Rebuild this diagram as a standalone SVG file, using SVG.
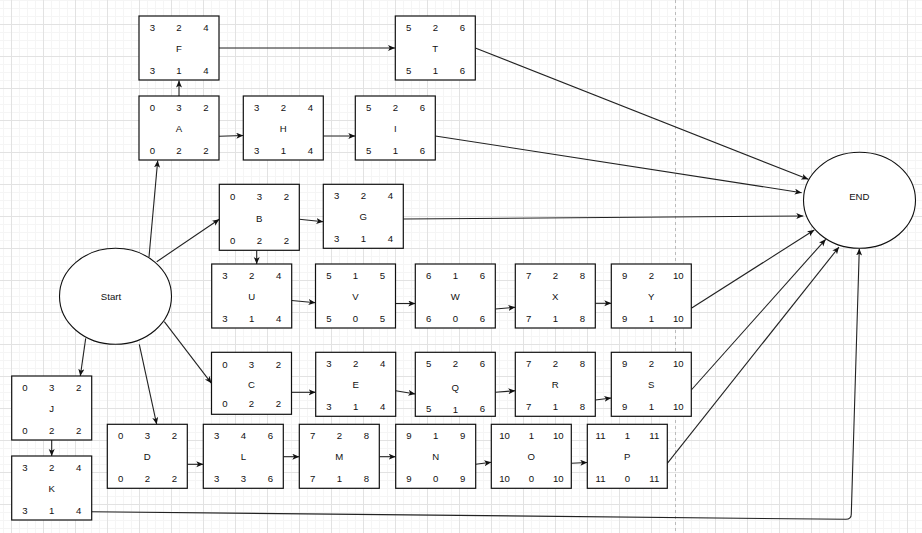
<svg xmlns="http://www.w3.org/2000/svg" width="922" height="533" viewBox="0 0 922 533">
<style>
.box{fill:#fff;stroke:#111;stroke-width:1.2}
.ell{fill:#fff;stroke:#111;stroke-width:1.1}
text{font-family:"Liberation Sans",Arial,sans-serif;font-size:9.6px;fill:#111;text-anchor:middle}
.c{fill:none;stroke:#222;stroke-width:1.1;marker-end:url(#arr)}
</style>
<defs>
<pattern id="grid" patternUnits="userSpaceOnUse" x="11" y="24" width="32" height="32">
<path d="M8.5,0V32M16.5,0V32M24.5,0V32M0,8.5H32M0,16.5H32M0,24.5H32" stroke="#f5f5f5" stroke-width="1" fill="none"/>
<path d="M0.5,0V32M0,0.5H32" stroke="#e2e2e2" stroke-width="1" fill="none"/>
</pattern>
<marker id="arr" markerUnits="userSpaceOnUse" markerWidth="10" markerHeight="10" refX="7" refY="3" orient="auto">
<path d="M0,0 L7,3 L0,6 L1.8,3 Z" fill="#111"/>
</marker>
</defs>
<rect width="922" height="533" fill="#fff"/>
<rect width="922" height="533" fill="url(#grid)"/>
<line x1="675.5" y1="0" x2="675.5" y2="533" stroke="#bbb" stroke-width="1" stroke-dasharray="3 3"/>

<g id="connectors">
<path class="c" d="M179,96 L179,80.5"/>
<path class="c" d="M219,48 L395,48"/>
<path class="c" d="M219,136.3 L243.3,135.5"/>
<path class="c" d="M323.3,136 L355.3,136"/>
<path class="c" d="M149,257 L157.7,160.5"/>
<path class="c" d="M156.7,261.7 L219.3,219.3"/>
<path class="c" d="M299.3,219.3 L323.3,221.7"/>
<path class="c" d="M256.7,250.5 L256.7,264"/>
<path class="c" d="M291.7,300.5 L315.5,302.7"/>
<path class="c" d="M395.5,303.5 L415.3,303.5"/>
<path class="c" d="M495.3,309 L515.3,307.3"/>
<path class="c" d="M595.3,303.3 L611.3,303.3"/>
<path class="c" d="M164.3,321.7 L211.5,383.3"/>
<path class="c" d="M291.5,392.3 L315.7,392.3"/>
<path class="c" d="M395.7,390.7 L415.3,394"/>
<path class="c" d="M495.3,392.3 L515.3,390.7"/>
<path class="c" d="M595.3,400 L611.3,398"/>
<path class="c" d="M85.7,338.3 L80.3,376"/>
<path class="c" d="M51.7,440 L51.7,456"/>
<path class="c" d="M139.3,344.3 L156.7,424.3"/>
<path class="c" d="M187.3,464.3 L203.3,464.3"/>
<path class="c" d="M283.3,456.7 L299.3,456.7"/>
<path class="c" d="M379.3,456.7 L395.7,456.7"/>
<path class="c" d="M475.7,464.3 L491.3,462.3"/>
<path class="c" d="M571.3,463.3 L587.3,462.5"/>
<path class="c" d="M475.3,48 L808.3,179.3"/>
<path class="c" d="M435.3,136 L801.7,192.7"/>
<path class="c" d="M403.3,219 L803.3,216"/>
<path class="c" d="M691.3,308.3 L814.3,230"/>
<path class="c" d="M691.3,390 L825.7,239.3"/>
<path class="c" d="M667.3,463.3 L839,247"/>
<path class="c" d="M91.7,511.7 L845.5,519.3 Q851.5,519.5 851.3,513.5 L859.3,248.5"/>
</g>

<g id="node-Start">
<ellipse class="ell" cx="115.5" cy="296.3" rx="56" ry="48"/>
<text x="111" y="300">Start</text>
</g>
<g id="node-END">
<ellipse class="ell" cx="859.5" cy="200.3" rx="56" ry="48"/>
<text x="859.3" y="199.5">END</text>
</g>

<g id="node-F" transform="translate(139,16)"><rect class="box" width="80" height="64"/><text x="13.3" y="14.9">3</text><text x="40" y="14.9">2</text><text x="67" y="14.9">4</text><text x="40" y="35.9">F</text><text x="13.3" y="57.9">3</text><text x="40" y="57.9">1</text><text x="67" y="57.9">4</text></g>
<g id="node-T" transform="translate(395.3,16)"><rect class="box" width="80" height="64"/><text x="13.3" y="14.9">5</text><text x="40" y="14.9">2</text><text x="67" y="14.9">6</text><text x="40" y="35.9">T</text><text x="13.3" y="57.9">5</text><text x="40" y="57.9">1</text><text x="67" y="57.9">6</text></g>
<g id="node-A" transform="translate(139,96)"><rect class="box" width="80" height="64"/><text x="13.3" y="14.9">0</text><text x="40" y="14.9">3</text><text x="67" y="14.9">2</text><text x="40" y="35.9">A</text><text x="13.3" y="57.9">0</text><text x="40" y="57.9">2</text><text x="67" y="57.9">2</text></g>
<g id="node-H" transform="translate(243.3,96)"><rect class="box" width="80" height="64"/><text x="13.3" y="14.9">3</text><text x="40" y="14.9">2</text><text x="67" y="14.9">4</text><text x="40" y="35.9">H</text><text x="13.3" y="57.9">3</text><text x="40" y="57.9">1</text><text x="67" y="57.9">4</text></g>
<g id="node-I" transform="translate(355.3,96)"><rect class="box" width="80" height="64"/><text x="13.3" y="14.9">5</text><text x="40" y="14.9">2</text><text x="67" y="14.9">6</text><text x="40" y="35.9">I</text><text x="13.3" y="57.9">5</text><text x="40" y="57.9">1</text><text x="67" y="57.9">6</text></g>
<g id="node-B" transform="translate(219.3,184.3)"><rect class="box" width="80" height="66"/><text x="13.3" y="15.3">0</text><text x="40" y="15.3">3</text><text x="67" y="15.3">2</text><text x="40" y="37.5">B</text><text x="13.3" y="59.8">0</text><text x="40" y="59.8">2</text><text x="67" y="59.8">2</text></g>
<g id="node-G" transform="translate(323.3,184.3)"><rect class="box" width="80" height="64"/><text x="13.3" y="14.9">3</text><text x="40" y="14.9">2</text><text x="67" y="14.9">4</text><text x="40" y="35.3">G</text><text x="13.3" y="57.4">3</text><text x="40" y="57.4">1</text><text x="67" y="57.4">4</text></g>
<g id="node-U" transform="translate(211.7,264)"><rect class="box" width="80" height="64"/><text x="13.3" y="15.4">3</text><text x="40" y="15.4">2</text><text x="67" y="15.4">4</text><text x="40" y="36.1">U</text><text x="13.3" y="57.7">3</text><text x="40" y="57.7">1</text><text x="67" y="57.7">4</text></g>
<g id="node-V" transform="translate(315.5,264)"><rect class="box" width="80" height="64"/><text x="13.3" y="15.4">5</text><text x="40" y="15.4">1</text><text x="67" y="15.4">5</text><text x="40" y="36.1">V</text><text x="13.3" y="57.7">5</text><text x="40" y="57.7">0</text><text x="67" y="57.7">5</text></g>
<g id="node-W" transform="translate(415.3,264)"><rect class="box" width="80" height="64"/><text x="13.3" y="15.4">6</text><text x="40" y="15.4">1</text><text x="67" y="15.4">6</text><text x="40" y="36.1">W</text><text x="13.3" y="57.7">6</text><text x="40" y="57.7">0</text><text x="67" y="57.7">6</text></g>
<g id="node-X" transform="translate(515.3,264)"><rect class="box" width="80" height="64"/><text x="13.3" y="15.4">7</text><text x="40" y="15.4">2</text><text x="67" y="15.4">8</text><text x="40" y="36.1">X</text><text x="13.3" y="57.7">7</text><text x="40" y="57.7">1</text><text x="67" y="57.7">8</text></g>
<g id="node-Y" transform="translate(611.3,264)"><rect class="box" width="80" height="64"/><text x="13.3" y="15.4">9</text><text x="40" y="15.4">2</text><text x="67" y="15.4">10</text><text x="40" y="36.1">Y</text><text x="13.3" y="57.7">9</text><text x="40" y="57.7">1</text><text x="67" y="57.7">10</text></g>
<g id="node-C" transform="translate(211.5,352.3)"><rect class="box" width="80" height="62"/><text x="13.3" y="15.4">0</text><text x="40" y="15.4">3</text><text x="67" y="15.4">2</text><text x="40" y="35.7">C</text><text x="13.3" y="54.7">0</text><text x="40" y="54.7">2</text><text x="67" y="54.7">2</text></g>
<g id="node-E" transform="translate(315.7,352.3)"><rect class="box" width="80" height="64"/><text x="13.3" y="15.1">3</text><text x="40" y="15.1">2</text><text x="67" y="15.1">4</text><text x="40" y="36.1">E</text><text x="13.3" y="57.8">3</text><text x="40" y="57.8">1</text><text x="67" y="57.8">4</text></g>
<g id="node-Q" transform="translate(415.3,352.3)"><rect class="box" width="80" height="64"/><text x="13.3" y="15.1">5</text><text x="40" y="15.1">2</text><text x="67" y="15.1">6</text><text x="40" y="38.4">Q</text><text x="13.3" y="59.8">5</text><text x="40" y="60.4">1</text><text x="67" y="59.8">6</text></g>
<g id="node-R" transform="translate(515.3,352.3)"><rect class="box" width="80" height="64"/><text x="13.3" y="15.1">7</text><text x="40" y="15.1">2</text><text x="67" y="15.1">8</text><text x="40" y="36.1">R</text><text x="13.3" y="57.8">7</text><text x="40" y="57.8">1</text><text x="67" y="57.8">8</text></g>
<g id="node-S" transform="translate(611.3,352.3)"><rect class="box" width="80" height="64"/><text x="13.3" y="15.1">9</text><text x="40" y="15.1">2</text><text x="67" y="15.1">10</text><text x="40" y="36.1">S</text><text x="13.3" y="57.8">9</text><text x="40" y="57.8">1</text><text x="67" y="57.8">10</text></g>
<g id="node-J" transform="translate(11.7,376)"><rect class="box" width="80" height="64"/><text x="13.3" y="14.7">0</text><text x="40" y="14.7">3</text><text x="67" y="14.7">2</text><text x="40" y="36.4">J</text><text x="13.3" y="58.1">0</text><text x="40" y="58.1">2</text><text x="67" y="58.1">2</text></g>
<g id="node-K" transform="translate(11.7,456)"><rect class="box" width="80" height="64"/><text x="13.3" y="15.1">3</text><text x="40" y="15.1">2</text><text x="67" y="15.1">4</text><text x="40" y="36.4">K</text><text x="13.3" y="58.1">3</text><text x="40" y="58.1">1</text><text x="67" y="58.1">4</text></g>
<g id="node-D" transform="translate(107.3,424.3)"><rect class="box" width="80" height="64"/><text x="13.3" y="14.8">0</text><text x="40" y="14.8">3</text><text x="67" y="14.8">2</text><text x="40" y="35.8">D</text><text x="13.3" y="58.1">0</text><text x="40" y="58.1">2</text><text x="67" y="58.1">2</text></g>
<g id="node-L" transform="translate(203.3,424.3)"><rect class="box" width="80" height="64"/><text x="13.3" y="14.8">3</text><text x="40" y="14.8">4</text><text x="67" y="14.8">6</text><text x="40" y="35.8">L</text><text x="13.3" y="58.1">3</text><text x="40" y="58.1">3</text><text x="67" y="58.1">6</text></g>
<g id="node-M" transform="translate(299.3,424.3)"><rect class="box" width="80" height="64"/><text x="13.3" y="14.8">7</text><text x="40" y="14.8">2</text><text x="67" y="14.8">8</text><text x="40" y="35.8">M</text><text x="13.3" y="58.1">7</text><text x="40" y="58.1">1</text><text x="67" y="58.1">8</text></g>
<g id="node-N" transform="translate(395.7,424.3)"><rect class="box" width="80" height="64"/><text x="13.3" y="14.8">9</text><text x="40" y="14.8">1</text><text x="67" y="14.8">9</text><text x="40" y="35.8">N</text><text x="13.3" y="58.1">9</text><text x="40" y="58.1">0</text><text x="67" y="58.1">9</text></g>
<g id="node-O" transform="translate(491.3,424.3)"><rect class="box" width="80" height="64"/><text x="13.3" y="14.8">10</text><text x="40" y="14.8">1</text><text x="67" y="14.8">10</text><text x="40" y="35.8">O</text><text x="13.3" y="58.1">10</text><text x="40" y="58.1">0</text><text x="67" y="58.1">10</text></g>
<g id="node-P" transform="translate(587.3,424.3)"><rect class="box" width="80" height="64"/><text x="13.3" y="14.8">11</text><text x="40" y="14.8">1</text><text x="67" y="14.8">11</text><text x="40" y="35.8">P</text><text x="13.3" y="58.1">11</text><text x="40" y="58.1">0</text><text x="67" y="58.1">11</text></g>
</svg>
